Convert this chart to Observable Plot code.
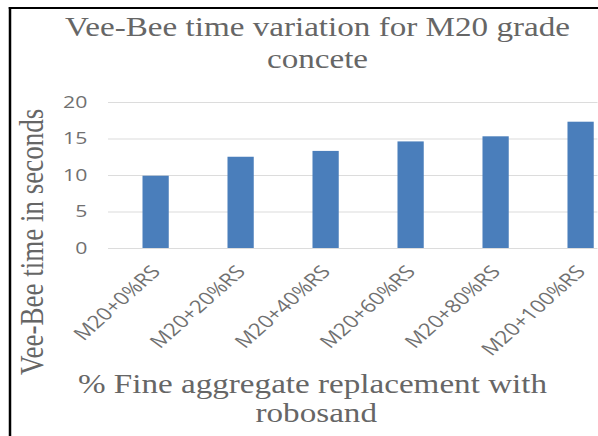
<!DOCTYPE html>
<html>
<head>
<meta charset="utf-8">
<script src="https://cdn.jsdelivr.net/npm/d3@7"></script>
<script src="https://cdn.jsdelivr.net/npm/@observablehq/plot@0.6"></script>
<style>
  html, body { margin: 0; padding: 0; background: #fff; overflow: hidden; width: 598px; height: 436px; }
  #wrap { position: absolute; left: 0; top: 0; width: 478.4px; height: 436px; transform: scaleX(1.25); transform-origin: 0 0; }
  .serif { position: absolute; font-family: "Liberation Serif", "Times New Roman", serif; font-size: 26.5px; color: #666666; white-space: nowrap; line-height: 1; }
  .hline { position: absolute; background: #000; }
  #chart { position: absolute; left: 0; top: 0; }
</style>
</head>
<body>
<div id="wrap">
  <div id="chart"></div>
  <div class="hline" style="left:7.4px; top:7px; width:480px; height:2px;"></div>
  <div class="hline" style="left:7.4px; top:7px; width:1.7px; height:440px;"></div>
  <div class="serif" id="t1" style="left:254px; top:14px; transform: translateX(-50%);"></div>
  <div class="serif" id="t2" style="left:254px; top:46px; transform: translateX(-50%);"></div>
  <div class="serif" id="x1" style="left:250px; top:371px; transform: translateX(-50%);"></div>
  <div class="serif" id="x2" style="left:253px; top:400px; transform: translateX(-50%);"></div>
  <div class="serif" id="yl" style="font-size:27px; left:12px; top:243px; transform: rotate(-90deg); transform-origin: 0 0;"></div>
</div>
<script>
const titleLines = ["Vee-Bee time variation for M20 grade", "concete"];
const xTitleLines = ["% Fine aggregate replacement with", "robosand"];
const yTitle = "Vee-Bee time in seconds";
const categories = ["M20+0%RS", "M20+20%RS", "M20+40%RS", "M20+60%RS", "M20+80%RS", "M20+100%RS"];
const veeBeeTime = [9.9, 12.5, 13.3, 14.6, 15.3, 17.3];
const yTicks = [0, 5, 10, 15, 20];

document.getElementById("t1").textContent = titleLines[0];
document.getElementById("t2").textContent = titleLines[1];
document.getElementById("x1").textContent = xTitleLines[0];
document.getElementById("x2").textContent = xTitleLines[1];
const yl = document.getElementById("yl");
yl.textContent = yTitle;
const data = categories.map((c, i) => ({category: c, value: veeBeeTime[i]}));

const chart = Plot.plot({
  width: 478.4,
  height: 436,
  marginTop: 102,
  marginBottom: 188,
  marginLeft: 86.4,
  marginRight: 0,
  style: {background: "transparent", overflow: "hidden", fontFamily: "'Open Sans', sans-serif", fontSize: "17px", color: "#707070"},
  x: {domain: categories, range: [88.4, 501.2], paddingInner: 0.686, paddingOuter: 0.343, align: 0.5, label: null},
  y: {domain: [0, 20], label: null},
  marks: [
    Plot.ruleY(yTicks, {stroke: "#dcdcdc", strokeWidth: 1}),
    Plot.barY(data, {x: "category", y: "value", fill: "#4a7ebb"}),
    Plot.axisY({ticks: yTicks, tickSize: 0, tickPadding: 17, label: null}),
    Plot.axisX({tickSize: 0, tickRotate: -48, tickPadding: 20, fontSize: 18, label: null})
  ]
});
document.getElementById("chart").appendChild(chart);

const len = yl.offsetWidth;
yl.style.top = (242 + len / 2) + "px";
</script>
</body>
</html>
